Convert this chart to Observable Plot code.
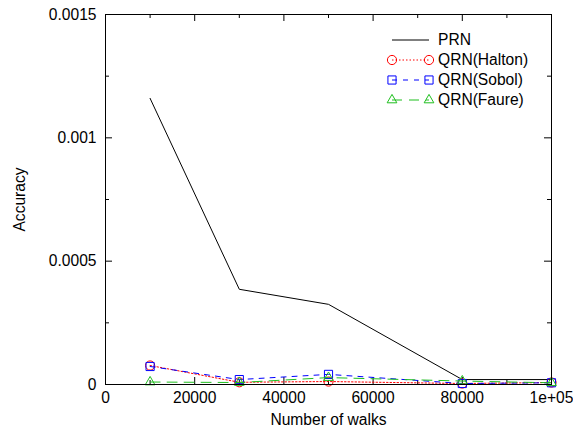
<!DOCTYPE html>
<html><head><meta charset="utf-8">
<script src="https://cdn.jsdelivr.net/npm/d3@7"></script>
<script src="https://cdn.jsdelivr.net/npm/@observablehq/plot@0.6"></script>
<style>
body{margin:0;background:#fff;}
#wrap{position:relative;width:573px;height:433px;}
#legend{position:absolute;left:0;top:0;pointer-events:none;}
</style></head><body><div id="wrap"></div>
<script>
// ---- data ----
const walks = [10000, 30000, 50000, 80000, 100000];
const seriesNames = ["PRN", "QRN(Halton)", "QRN(Sobol)", "QRN(Faure)"];
const prn    = [0.00116, 0.000386, 0.000325, 0.00002, 0.00002];
const halton = [0.000077, 0.000009, 0.000012, 0.000004, 0.000008];
const sobol  = [0.000073, 0.00002, 0.000041, 0.000004, 0.000007];
const faure  = [0.000010, 0.000008, 0.000028, 0.000014, 0.000007];
const xMajorTicks = [0, 20000, 40000, 60000, 80000, 100000];
const xTickLabels = ["0", "20000", "40000", "60000", "80000", "1e+05"];
const xMinorTicks = [10000, 30000, 50000, 70000, 90000];
const yMajorTicks = [0, 0.0005, 0.001, 0.0015];
const yTickLabels = ["0", "0.0005", "0.001", "0.0015"];
const yMinorTicks = [0.00025, 0.00075, 0.00125];

// ---- styles ----
const colors = ["#000000", "#ff0000", "#0000ff", "#1fbf1f"];
const dashes = [null, "1.5,2", "5,6", "10,7"];
const symbols = [null, "circle", "square", "triangle"];
const radii = [0, 4.6, 4.6, 3.6];
const values = [prn, halton, sobol, faure];

const W = 573, H = 433, mL = 105, mR = 22, mT = 14, mB = 49;
const pw = W - mL - mR, ph = H - mT - mB;
const font = "'Liberation Sans', Arial, Helvetica, sans-serif";

const rows = [];
seriesNames.forEach((s, i) => walks.forEach((w, j) => rows.push({series: s, idx: i, x: w, y: values[i][j]})));

const marks = [];
// ticks (inward, mirrored)
marks.push(Plot.tickX(xMajorTicks, {x: d => d, insetTop: ph - 7, stroke: "black"}));
marks.push(Plot.tickX(xMajorTicks, {x: d => d, insetBottom: ph - 7, stroke: "black"}));
marks.push(Plot.tickX(xMinorTicks, {x: d => d, insetTop: ph - 4, stroke: "black"}));
marks.push(Plot.tickX(xMinorTicks, {x: d => d, insetBottom: ph - 4, stroke: "black"}));
marks.push(Plot.tickY(yMajorTicks, {y: d => d, insetRight: pw - 7, stroke: "black"}));
marks.push(Plot.tickY(yMajorTicks, {y: d => d, insetLeft: pw - 7, stroke: "black"}));
marks.push(Plot.tickY(yMinorTicks, {y: d => d, insetRight: pw - 4, stroke: "black"}));
marks.push(Plot.tickY(yMinorTicks, {y: d => d, insetLeft: pw - 4, stroke: "black"}));

seriesNames.forEach((s, i) => {
  const data = rows.filter(r => r.idx === i);
  marks.push(Plot.line(data, {x: "x", y: "y", stroke: colors[i], strokeWidth: 1, strokeDasharray: dashes[i]}));
  if (symbols[i]) marks.push(Plot.dot(data, {x: "x", y: "y", symbol: symbols[i], r: radii[i], stroke: colors[i], fill: "none", strokeWidth: 1}));
});

marks.push(Plot.frame({stroke: "black"}));
marks.push(Plot.axisX(xMajorTicks, {tickSize: 0, tickPadding: 7, tickFormat: (d, i) => xTickLabels[i],
  label: "Number of walks", labelAnchor: "center", labelOffset: 40, labelArrow: "none"}));
marks.push(Plot.axisY(yMajorTicks, {tickSize: 0, tickPadding: 9, tickFormat: (d, i) => yTickLabels[i],
  label: "Accuracy", labelAnchor: "center", labelOffset: 92, labelArrow: "none"}));

const chart = Plot.plot({
  width: W, height: H,
  marginLeft: mL, marginRight: mR, marginTop: mT, marginBottom: mB,
  x: {domain: [0, 100000]},
  y: {domain: [0, 0.0015]},
  style: {fontSize: "15.6px", fontFamily: font, color: "#000", background: "#fff", overflow: "visible"},
  marks
});
const wrap = document.getElementById("wrap");
wrap.appendChild(chart);

// ---- legend overlay ----
const leg = d3.select(wrap).append("svg").attr("id", "legend").attr("width", W).attr("height", H)
  .style("font-family", font).style("font-size", "15.6px");
const x0 = 392, x1 = 429, tx = 438, rowY0 = 40, rowDy = 20;
seriesNames.forEach((s, i) => {
  const y = rowY0 + i * rowDy;
  const g = leg.append("g");
  g.append("line").attr("x1", x0).attr("x2", x1).attr("y1", y).attr("y2", y)
    .attr("stroke", colors[i]).attr("stroke-width", 1).attr("stroke-dasharray", dashes[i]);
  if (symbols[i]) {
    const sym = {circle: d3.symbolCircle, square: d3.symbolSquare, triangle: d3.symbolTriangle}[symbols[i]];
    const path = d3.symbol(sym, Math.PI * radii[i] * radii[i])();
    [x0, x1].forEach(px => g.append("path").attr("d", path).attr("transform", `translate(${px},${y})`)
      .attr("fill", "none").attr("stroke", colors[i]));
  }
  g.append("text").attr("x", tx).attr("y", y).attr("dy", "0.35em").text(s);
});
</script></body></html>
